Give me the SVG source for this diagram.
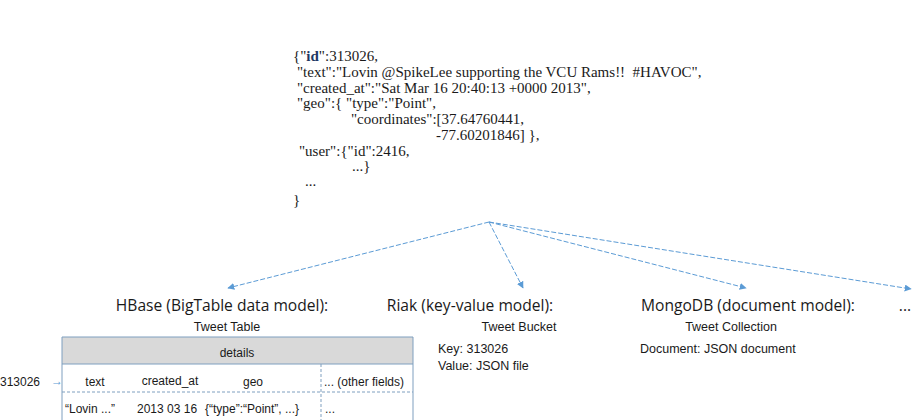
<svg xmlns="http://www.w3.org/2000/svg" width="918" height="420" viewBox="0 0 918 420">
<defs>
<style>
.json{font-family:"Liberation Serif","DejaVu Serif",serif;font-size:15px;fill:#1a1a1a;white-space:pre}
.idk{fill:#1f3864;font-weight:bold}
.title{font-family:"Open Sans","Liberation Sans",sans-serif;font-size:15.6px;fill:#1a1a1a}
.sub{font-family:"Liberation Sans","DejaVu Sans",sans-serif;font-size:12.5px;fill:#1a1a1a}
.cell{font-family:"Liberation Sans","DejaVu Sans",sans-serif;font-size:12px;fill:#1a1a1a}
.conn{stroke:#5b9bd5;stroke-width:1;fill:none;stroke-dasharray:5 2}
.tb{stroke:#7f9fbf;stroke-width:1;fill:none}
.tbd{stroke:#7f9fbf;stroke-width:1;fill:none;stroke-dasharray:3 2}
</style>
<marker id="ah" viewBox="0 0 10 10" refX="9" refY="5" markerWidth="7" markerHeight="7" orient="auto" markerUnits="userSpaceOnUse">
<path d="M0,0 L10,5 L0,10 z" fill="#5b9bd5"/>
</marker>
</defs>
<rect width="918" height="420" fill="#ffffff"/>

<g id="json">
<text class="json" x="293" y="61">{"<tspan class="idk">id</tspan>":313026,</text>
<text class="json" x="297" y="77">"text":"Lovin @SpikeLee supporting the VCU Rams!!  #HAVOC",</text>
<text class="json" x="297" y="93">"created_at":"Sat Mar 16 20:40:13 +0000 2013",</text>
<text class="json" x="297" y="108">"geo":{ "type":"Point",</text>
<text class="json" x="351" y="124">"coordinates":[37.64760441,</text>
<text class="json" x="436" y="140">-77.60201846] },</text>
<text class="json" x="299" y="156">"user":{"id":2416,</text>
<text class="json" x="352" y="171">...}</text>
<text class="json" x="305" y="186">...</text>
<text class="json" x="293" y="205">}</text>
</g>

<g id="connectors">
<line class="conn" x1="489" y1="222" x2="228" y2="288" marker-end="url(#ah)"/>
<line class="conn" x1="489" y1="222" x2="523" y2="288" marker-end="url(#ah)"/>
<line class="conn" x1="489" y1="222" x2="746" y2="288" marker-end="url(#ah)"/>
<line class="conn" x1="489" y1="222" x2="911" y2="289" marker-end="url(#ah)"/>
</g>

<g id="hbase">
<text class="title" x="222" y="311" text-anchor="middle">HBase (BigTable data model):</text>
<text class="sub" x="227" y="331" text-anchor="middle">Tweet Table</text>
<rect x="62" y="337" width="351" height="27" fill="#d9d9d9"/>
<line class="tb" x1="62" y1="337" x2="413" y2="337"/>
<line class="tb" x1="62" y1="337" x2="62" y2="420"/>
<line class="tb" x1="413" y1="337" x2="413" y2="420"/>
<line class="tb" x1="62" y1="364" x2="413" y2="364"/>
<line class="tbd" x1="62" y1="392" x2="413" y2="392"/>
<line class="tbd" x1="321" y1="364" x2="321" y2="420"/>
<text class="cell" x="237" y="357" text-anchor="middle">details</text>
<text class="cell" x="0" y="386">313026</text>
<text x="51" y="385" font-family="Liberation Sans,sans-serif" font-size="12" fill="#5b9bd5">→</text>
<text class="cell" x="95" y="386" text-anchor="middle">text</text>
<text class="cell" x="170" y="385" text-anchor="middle">created_at</text>
<text class="cell" x="253" y="386" text-anchor="middle">geo</text>
<text class="cell" x="324" y="386">... (other fields)</text>
<text class="cell" x="65" y="413">“Lovin ...”</text>
<text class="cell" x="137" y="413">2013 03 16</text>
<text class="cell" x="205" y="413">{“type”:“Point”, ...}</text>
<text class="cell" x="325" y="413">...</text>
</g>

<g id="riak">
<text class="title" x="470" y="311" text-anchor="middle">Riak (key-value model):</text>
<text class="sub" x="519" y="331" text-anchor="middle">Tweet Bucket</text>
<text class="sub" x="438" y="353">Key: 313026</text>
<text class="sub" x="438" y="370">Value: JSON file</text>
</g>

<g id="mongodb">
<text class="title" x="748" y="311" text-anchor="middle">MongoDB (document model):</text>
<text class="sub" x="731" y="331" text-anchor="middle">Tweet Collection</text>
<text class="sub" x="640" y="353">Document: JSON document</text>
</g>

<g id="other">
<text class="title" x="905" y="311" text-anchor="middle">...</text>
</g>
</svg>
